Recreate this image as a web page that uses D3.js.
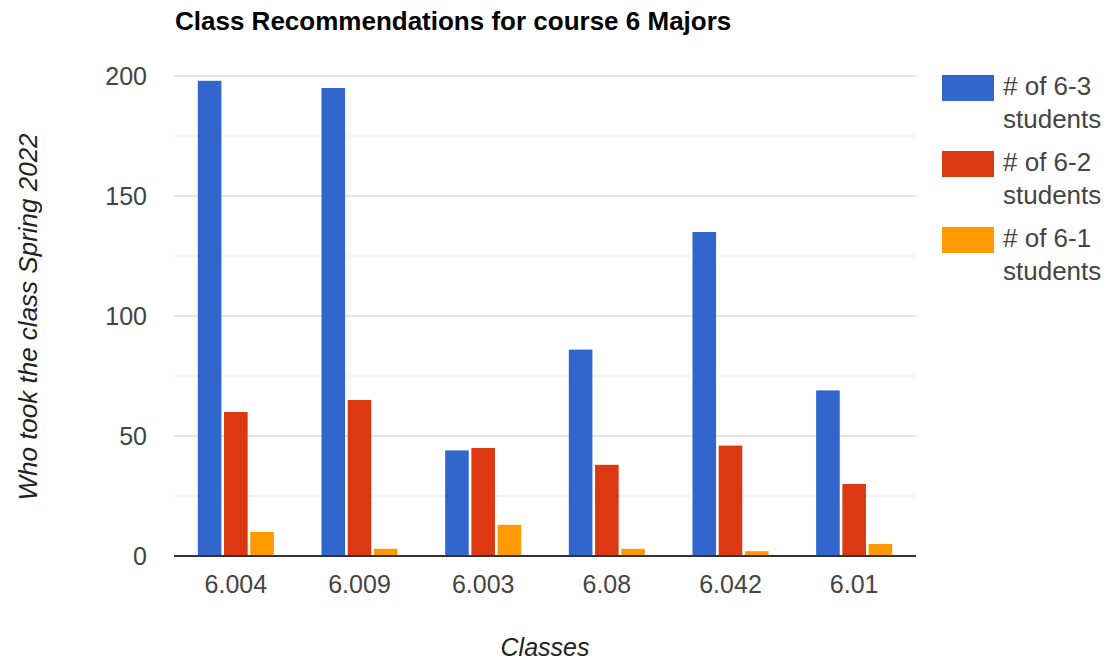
<!DOCTYPE html>
<html>
<head>
<meta charset="utf-8">
<script src="https://cdn.jsdelivr.net/npm/d3@7"></script>
<style>
  body { margin: 0; background: #fff; }
  text { font-family: "Liberation Sans", Arial, sans-serif; }
</style>
</head>
<body>
<svg width="1109" height="664"></svg>
<script>
// data
var classes = ["6.004", "6.009", "6.003", "6.08", "6.042", "6.01"];
var seriesNames = ["# of 6-3 students", "# of 6-2 students", "# of 6-1 students"];
var students63 = [198, 195, 44, 86, 135, 69];
var students62 = [60, 65, 45, 38, 46, 30];
var students61 = [10, 3, 13, 3, 2, 5];
var yTicks = [0, 50, 100, 150, 200];
var yMinor = [25, 75, 125, 175];

var colors = ["#3366cc", "#dc3912", "#ff9900"];
var series = [students63, students62, students61];

var svg = d3.select("svg");
// plot area (名前 top は window.top とぶつかるので使わない)
var plotLeft = 174, plotRight = 916, plotTop = 76, plotBottom = 556;

var x0 = d3.scaleBand().domain(classes).range([plotLeft, plotRight])
    .paddingInner(0.385).paddingOuter(0.1925);
var x1 = d3.scaleBand().domain(d3.range(3)).range([0, x0.bandwidth()]).paddingInner(0.1);
var y = d3.scaleLinear().domain([0, 200]).range([plotBottom, plotTop]);

// gridlines
svg.append("g").selectAll("line").data(yMinor).enter().append("line")
    .attr("x1", plotLeft).attr("x2", plotRight)
    .attr("y1", function(d) { return y(d); }).attr("y2", function(d) { return y(d); })
    .attr("stroke", "#ebebeb").attr("stroke-width", 1);
svg.append("g").selectAll("line").data(yTicks.filter(function(d) { return d > 0; })).enter().append("line")
    .attr("x1", plotLeft).attr("x2", plotRight)
    .attr("y1", function(d) { return y(d); }).attr("y2", function(d) { return y(d); })
    .attr("stroke", "#cccccc").attr("stroke-width", 1);

// bars
var groups = svg.append("g").selectAll("g").data(classes).enter().append("g")
    .attr("transform", function(d) { return "translate(" + x0(d) + ",0)"; });

groups.selectAll("rect")
    .data(function(d, i) { return series.map(function(s, j) { return { k: j, v: s[i] }; }); })
    .enter().append("rect")
    .attr("x", function(d) { return x1(d.k); })
    .attr("width", x1.bandwidth())
    .attr("y", function(d) { return y(d.v); })
    .attr("height", function(d) { return y(0) - y(d.v); })
    .attr("fill", function(d) { return colors[d.k]; });

// baseline
svg.append("line")
    .attr("x1", plotLeft).attr("x2", plotRight)
    .attr("y1", y(0)).attr("y2", y(0))
    .attr("stroke", "#333").attr("stroke-width", 2);

// y tick labels
svg.append("g").selectAll("text").data(yTicks).enter().append("text")
    .attr("x", 147).attr("y", function(d) { return y(d) + 9; })
    .attr("text-anchor", "end")
    .attr("font-size", 25).attr("fill", "#444")
    .text(function(d) { return d; });

// x tick labels
svg.append("g").selectAll("text").data(classes).enter().append("text")
    .attr("x", function(d) { return x0(d) + x0.bandwidth() / 2; })
    .attr("y", 593)
    .attr("text-anchor", "middle")
    .attr("font-size", 25).attr("fill", "#444")
    .text(function(d) { return d; });

// title
svg.append("text")
    .attr("x", 175).attr("y", 30)
    .attr("font-size", 26).attr("font-weight", "bold").attr("fill", "#000")
    .text("Class Recommendations for course 6 Majors");

// axis titles
svg.append("text")
    .attr("x", 545).attr("y", 656)
    .attr("text-anchor", "middle")
    .attr("font-size", 25).attr("font-style", "italic").attr("fill", "#222")
    .text("Classes");

svg.append("text")
    .attr("transform", "translate(37,317) rotate(-90)")
    .attr("text-anchor", "middle")
    .attr("font-size", 26).attr("font-style", "italic").attr("fill", "#222")
    .text("Who took the class Spring 2022");

// legend
var legend = svg.append("g").selectAll("g").data(seriesNames).enter().append("g")
    .attr("transform", function(d, i) { return "translate(942," + (75 + i * 76) + ")"; });
legend.append("rect")
    .attr("width", 52).attr("height", 26)
    .attr("fill", function(d, i) { return colors[i]; });
legend.append("text")
    .attr("x", 61).attr("y", 20)
    .attr("font-size", 26).attr("fill", "#444")
    .text(function(d) { return d.split(" students")[0]; });
legend.append("text")
    .attr("x", 61).attr("y", 53)
    .attr("font-size", 26).attr("fill", "#444")
    .text("students");
</script>
</body>
</html>
